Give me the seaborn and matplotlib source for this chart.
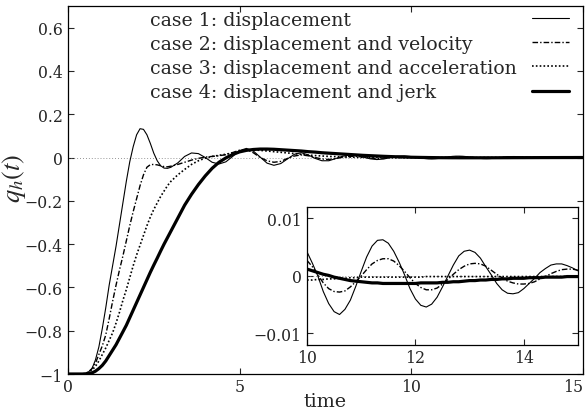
import matplotlib

matplotlib.use("Agg")
import matplotlib.pyplot as plt
import matplotlib.ticker as mticker
import numpy as np
import pandas as pd
import seaborn as sns

CASE_LABELS = [
    "case 1: displacement",
    "case 2: displacement and velocity",
    "case 3: displacement and acceleration",
    "case 4: displacement and jerk",
]

# sampling grids (finer where the curves move fast / inside the inset window)
TIME_EARLY = np.round(np.arange(0.0, 3.01, 0.1), 1)
TIME_MID = np.round(np.arange(3.2, 9.81, 0.2), 1)
TIME_LATE = np.round(np.arange(10.0, 15.01, 0.1), 1)

# values, t = 0.0 .. 3.0
case1_early = [-1.0, -1.0, -1.0, -1.0, -0.999, -0.997, -0.99, -0.975, -0.935, -0.875,
               -0.79, -0.695, -0.59, -0.50, -0.41, -0.31, -0.21, -0.11, -0.02, 0.05,
               0.105, 0.133, 0.13, 0.105, 0.065, 0.02, -0.015, -0.038, -0.049, -0.05,
               -0.045]
case2_early = [-1.0, -1.0, -1.0, -1.0, -0.999, -0.997, -0.99, -0.975, -0.95, -0.91,
               -0.87, -0.82, -0.745, -0.665, -0.59, -0.52, -0.455, -0.385, -0.315, -0.25,
               -0.19, -0.13, -0.08, -0.045, -0.033, -0.032, -0.034, -0.038, -0.042, -0.043,
               -0.04]
case3_early = [-1.0, -1.0, -1.0, -1.0, -1.0, -0.998, -0.993, -0.982, -0.965, -0.94,
               -0.91, -0.88, -0.845, -0.81, -0.765, -0.715, -0.66, -0.61, -0.555, -0.50,
               -0.45, -0.405, -0.36, -0.315, -0.275, -0.24, -0.21, -0.18, -0.155, -0.13,
               -0.11]
case4_early = [-1.0, -1.0, -1.0, -1.0, -1.0, -1.0, -0.998, -0.995, -0.987, -0.975,
               -0.96, -0.94, -0.915, -0.89, -0.865, -0.835, -0.805, -0.775, -0.74, -0.705,
               -0.67, -0.635, -0.60, -0.565, -0.53, -0.497, -0.465, -0.432, -0.40, -0.37,
               -0.34]

# t = 3.2 .. 9.8
case1_mid = [-0.025, 0.005, 0.021, 0.018,
             0.0, -0.022, -0.03, -0.02, 0.005,
             0.032, 0.042, 0.03, 0.002, -0.026,
             -0.036, -0.028, -0.006, 0.015, 0.022,
             0.012, -0.004, -0.015, -0.015, -0.005,
             0.006, 0.012, 0.011, 0.003, -0.006,
             -0.0095, -0.007, 0.0, 0.006, 0.0075]
case2_mid = [-0.032, -0.022, -0.012, -0.004,
             0.002, 0.005, 0.008, 0.013, 0.023,
             0.034, 0.037, 0.022, 0.0, -0.015,
             -0.022, -0.018, -0.004, 0.007, 0.012,
             0.008, 0.0, -0.007, -0.009, -0.005,
             0.001, 0.005, 0.005, 0.002, -0.003,
             -0.0045, -0.003, 0.0, 0.0025, 0.0035]
case3_mid = [-0.08, -0.055, -0.032, -0.015,
             -0.003, 0.005, 0.01, 0.015, 0.022,
             0.029, 0.034, 0.035, 0.033, 0.03,
             0.027, 0.024, 0.021, 0.018, 0.014,
             0.011, 0.009, 0.007, 0.005, 0.004,
             0.003, 0.002, 0.001, 0.0005, 0.0,
             -0.0003, -0.0005, -0.0006, -0.0007, -0.0007]
case4_mid = [-0.28, -0.22, -0.17, -0.125,
             -0.085, -0.05, -0.022, -0.002, 0.014,
             0.026, 0.033, 0.037, 0.039, 0.039,
             0.038, 0.036, 0.034, 0.032, 0.03,
             0.027, 0.025, 0.022, 0.02, 0.018,
             0.016, 0.014, 0.012, 0.01, 0.0085,
             0.007, 0.0055, 0.0043, 0.0032, 0.0022]

# t = 10.0 .. 15.0 (also shown in the inset)
case1_late = [0.0042, 0.0022, 0.0000, -0.0027, -0.0048, -0.0062, -0.0067, -0.0058, -0.0042, -0.0018,
              0.0008, 0.0033, 0.0052, 0.0062, 0.0063, 0.0057, 0.0043, 0.0024, 0.0002, -0.0022,
              -0.0040, -0.0051, -0.0054, -0.0049, -0.0037, -0.0019, 0.0000, 0.0019, 0.0035, 0.0043,
              0.0045, 0.0041, 0.0031, 0.0016, 0.0002, -0.0013, -0.0024, -0.0030, -0.0031, -0.0029,
              -0.0022, -0.0013, -0.0004, 0.0006, 0.0013, 0.0019, 0.0021, 0.0021, 0.0018, 0.0014,
              0.0009]
case2_late = [0.0027, 0.0016, 0.0002, -0.0012, -0.0022, -0.0027, -0.0028, -0.0026, -0.0019, -0.0010,
              0.0000, 0.0011, 0.0021, 0.0027, 0.0030, 0.0030, 0.0026, 0.0018, 0.0008, -0.0003,
              -0.0013, -0.0020, -0.0024, -0.0024, -0.0021, -0.0014, -0.0006, 0.0003, 0.0011, 0.0017,
              0.0021, 0.0022, 0.0021, 0.0017, 0.0010, 0.0003, -0.0003, -0.0009, -0.0012, -0.0014,
              -0.0014, -0.0013, -0.0010, -0.0005, -0.0001, 0.0004, 0.0008, 0.0011, 0.0012, 0.0012,
              0.0010]
case3_late = [-0.0007, -0.0007, -0.0006, -0.0006, -0.0005, -0.0005, -0.0004, -0.0004, -0.0003, -0.0003,
              -0.0002, -0.0002, -0.0002, -0.0002, -0.0002, -0.0002, -0.0002, -0.0002, -0.0002, -0.0002,
              -0.0002, -0.0002, -0.0001, -0.0001, -0.0001, -0.0001, -0.0001, -0.0001, -0.0001, -0.0001,
              -0.0001, -0.0001, -0.0001, -0.0001, -0.0001, -0.0001, -0.0001, -0.0001, -0.0001, -0.0001,
              -0.0001, -0.0001, -0.0001, -0.0001, -0.0001, -0.0001, -0.0001, -0.0001, -0.0001, -0.0001,
              -0.0001]
case4_late = [0.0012, 0.0009, 0.0006, 0.0003, 0.0001, -0.0002, -0.0004, -0.0006, -0.0008, -0.0009,
              -0.0010, -0.0011, -0.0012, -0.0012, -0.0013, -0.0013, -0.0013, -0.0013, -0.0013, -0.0013,
              -0.0013, -0.0012, -0.0012, -0.0012, -0.0012, -0.0011, -0.0011, -0.0010, -0.0010, -0.0009,
              -0.0008, -0.0008, -0.0007, -0.0007, -0.0006, -0.0006, -0.0005, -0.0005, -0.0004, -0.0004,
              -0.0004, -0.0003, -0.0003, -0.0003, -0.0002, -0.0002, -0.0002, -0.0002, -0.0001, -0.0001,
              -0.0001]

MAIN_YTICKS = [-1, -0.8, -0.6, -0.4, -0.2, 0, 0.2, 0.4, 0.6]
MAIN_XTICKS = [0, 5, 10, 15]
INSET_YTICKS = [-0.01, 0, 0.01]
INSET_XTICKS = [10, 12, 14]

WIDTHS = dict(zip(CASE_LABELS, [0.8, 1.0, 1.2, 2.3]))
DASHES = dict(zip(CASE_LABELS, ["", (4, 1.5, 1, 1.5), (1, 1.3), ""]))


def build_frame(with_early=True):
    parts = []
    blocks = [
        (case1_early, case1_mid, case1_late),
        (case2_early, case2_mid, case2_late),
        (case3_early, case3_mid, case3_late),
        (case4_early, case4_mid, case4_late),
    ]
    for label, (early, mid, late) in zip(CASE_LABELS, blocks):
        if with_early:
            t = np.concatenate([TIME_EARLY, TIME_MID, TIME_LATE])
            q = np.concatenate([early, mid, late])
        else:
            t, q = TIME_LATE, np.asarray(late)
        parts.append(pd.DataFrame({"time": t, "q": q, "case": label}))
    return pd.concat(parts, ignore_index=True)


def fmt(v, _pos=None):
    v = round(v, 4)
    if v == 0:
        return "0"
    return f"{v:g}".replace("-", "\u2212")


def style_ticks(ax):
    ax.tick_params(direction="in", length=4, width=0.8, top=True, right=True,
                   labelsize=11.3, pad=4)
    for s in ax.spines.values():
        s.set_linewidth(0.9)
        s.set_color("black")


def draw(ax, df):
    ax.axhline(0, color="0.45", lw=0.6, ls=(0, (1, 2.5)), zorder=1)
    sns.lineplot(data=df, x="time", y="q", style="case", size="case",
                 dashes=DASHES, sizes=WIDTHS, color="black",
                 estimator=None, sort=False, legend=False, ax=ax, zorder=2)


sns.set_style("ticks")
plt.rcParams["font.family"] = ["DejaVu Serif"]
plt.rcParams["mathtext.fontset"] = "stix"

fig = plt.figure(figsize=(5.85, 4.14), dpi=100)
ax = fig.add_axes([0.1162, 0.0942, 0.880, 0.889])
draw(ax, build_frame(True))
ax.set_xlim(0, 15)
ax.set_ylim(-1, 0.7)
ax.set_xticks(MAIN_XTICKS)
ax.set_yticks(MAIN_YTICKS)
ax.xaxis.set_major_formatter(mticker.FuncFormatter(fmt))
ax.yaxis.set_major_formatter(mticker.FuncFormatter(fmt))
style_ticks(ax)
ax.tick_params(axis="x", pad=3)
ax.set_xlabel("time", fontsize=13.7, labelpad=-2)
ax.set_ylabel("$q_h(t)$", fontsize=19)
ax.yaxis.set_label_coords(-0.078, 0.535)

handles = [l for l in ax.get_lines() if l.get_label() in CASE_LABELS]
if len(handles) != 4:
    handles = ax.get_lines()[1:5]
leg = ax.legend(handles, CASE_LABELS, loc="upper right", bbox_to_anchor=(0.978, 0.995),
                frameon=False, markerfirst=False, handlelength=1.96, handletextpad=0.78,
                labelspacing=0.33, fontsize=13.6, borderaxespad=0.0, borderpad=0.15)

# left-align the label texts while keeping the line samples in a right column
fig.canvas.draw()
renderer = fig.canvas.get_renderer()
column = leg._legend_handle_box.get_children()[0]
column.align = "left"
widths = [t.get_window_extent(renderer).width for t in leg.get_texts()]
for row, w in zip(column.get_children(), widths):
    row.sep = row.sep + (max(widths) - w) * 72.0 / fig.dpi

ins = fig.add_axes([0.5248, 0.1643, 0.4632, 0.3333])
ins.set_facecolor("white")
draw(ins, build_frame(False))
ins.set_xlim(10, 15)
ins.set_ylim(-0.012, 0.012)
ins.set_xticks(INSET_XTICKS)
ins.set_yticks(INSET_YTICKS)
ins.xaxis.set_major_formatter(mticker.FuncFormatter(fmt))
ins.yaxis.set_major_formatter(mticker.FuncFormatter(fmt))
style_ticks(ins)
ins.tick_params(axis="x", pad=3)
ins.set_xlabel("")
ins.set_ylabel("")

ax.get_xticklabels()[-1].set_horizontalalignment("right")

fig.savefig("out.png", dpi=100)
